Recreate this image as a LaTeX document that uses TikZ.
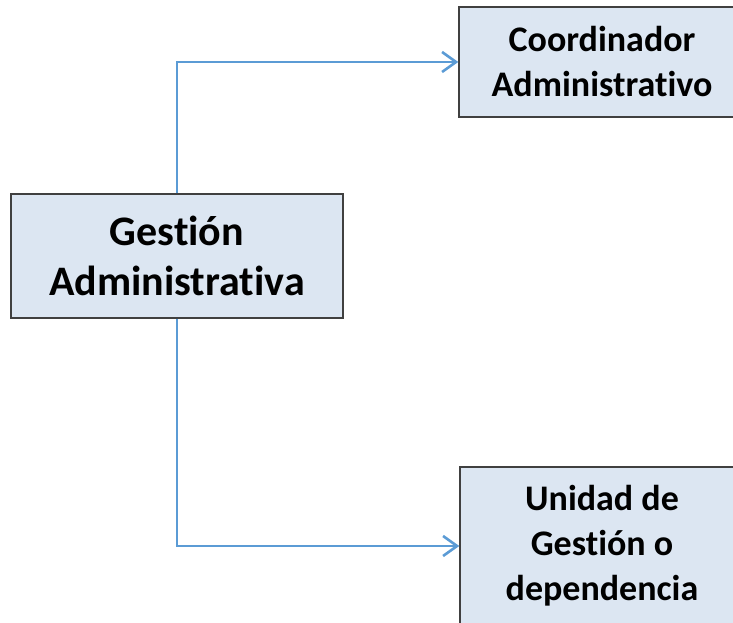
\documentclass[tikz,border=0pt]{standalone}
\usepackage{fontspec}
\setmainfont{Carlito}[Ligatures=NoCommon]
\usetikzlibrary{arrows.meta}
\definecolor{boxfill}{HTML}{DCE6F2}
\definecolor{boxline}{HTML}{404040}
\definecolor{linkblue}{HTML}{5B9BD5}
\tikzset{
  orgbox/.style={draw=boxline, fill=boxfill, line width=1.4pt, align=center, inner sep=0pt, font=\bfseries},
  link/.style={draw=linkblue, line width=2.6pt, -{Straight Barb[length=14pt,width=20pt,line width=2.6pt]}}
}
\begin{document}
\begin{tikzpicture}[x=1pt,y=1pt]
\clip (0,0) rectangle (733,623);
\node[orgbox, minimum width=332pt, minimum height=124pt, font=\bfseries\fontsize{42}{50}\selectfont] (A) at (177,367) {Gestión\\Administrativa};
\node[orgbox, minimum width=286pt, minimum height=110pt, font=\bfseries\fontsize{36}{45}\selectfont] (B) at (602,561) {Coordinador\\Administrativo};
\node[orgbox, minimum width=284pt, minimum height=158pt, font=\bfseries\fontsize{36}{45}\selectfont] (C) at (602,77) {Unidad de\\Gestión o\\dependencia};
\draw[link] (A.north) |- (B.west);
\draw[link] (A.south) |- (C.west);
\end{tikzpicture}
\end{document}
